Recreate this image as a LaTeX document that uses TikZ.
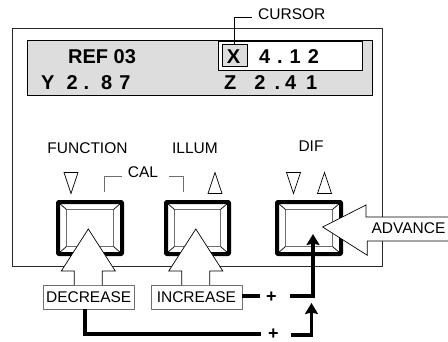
\documentclass[tikz,border=0pt]{standalone}
\usepackage{fontspec}
\setmainfont{Liberation Sans}
\usetikzlibrary{arrows.meta,positioning}
\definecolor{paneledge}{RGB}{40,40,40}
\definecolor{displaygray}{RGB}{221,221,221}
\definecolor{bevelgray}{RGB}{110,110,110}
\tikzset{
 label/.style={font=\fontsize{15.5}{15.5}\selectfont,inner sep=0pt},
 readout/.style={font=\fontsize{20}{20}\selectfont\bfseries,inner sep=0pt},
 plussign/.style={font=\fontsize{18}{18}\selectfont\bfseries,inner sep=0pt},
 keybox/.style={draw=bevelgray,fill=white,line width=.8pt,font=\fontsize{15.5}{15.5}\selectfont,inner sep=0pt,minimum height=24pt},
 hollow/.style={draw=black,fill=white,line width=.7pt,line join=miter},
 feed/.style={line width=3.7pt,line cap=butt,line join=miter},
 feedtip/.style={feed,-{Stealth[length=11pt,width=13pt,inset=1.5pt]}},
 bracket/.style={draw=bevelgray,line width=.9pt},
}
\newcommand{\rg}[1]{\kern#1pt}
\newcommand{\panelkey}[2]{% frame left, frame right
 \draw[line width=1pt,draw=bevelgray] (#1+8.5,209.5) rectangle (#2-8.5,246.5);
 \foreach \xa/\ya/\xb/\yb in {#1+1/203/#1+8.5/209.5,#2-1/203/#2-8.5/209.5,#1+1/253/#1+8.5/246.5,#2-1/253/#2-8.5/246.5}
  {\draw[line width=.7pt] (\xa,\ya)--(\xb,\yb);}
 \draw[line width=4pt,rounded corners=.8pt] (#1,202) rectangle (#2,254);
}
\begin{document}
\begin{tikzpicture}[x=1pt,y=-1pt,>=Stealth,line join=round]
 \useasboundingbox (0,0) rectangle (448,341);
 % panel and display
 \draw[paneledge,line width=.9pt] (12.5,28) rectangle (382.5,266);
 \draw[fill=displaygray,line width=.8pt] (27,40) rectangle (372,95);
 \draw[fill=white,line width=.8pt] (218.5,41) rectangle (362.5,70.5);
 \draw[fill=displaygray,line width=.8pt] (222.5,44) rectangle (247,66.5);
 \node[readout] (ref) at (102,56.5) {REF 03};
 \node[readout] (xname) at (233.5,56.5) {X};
 \node[readout] (xval) at (289,56.5) {4\rg{7}.\rg{7}1\rg{7}2};
 \node[readout,anchor=base west] (yval) at (41,89) {Y\rg{12}2\rg{6}.\rg{12}8\rg{7}7};
 \node[readout,anchor=base west] (zval) at (224,89) {Z\rg{18}2\rg{9}.\rg{5}4\rg{10}1};
 % cursor leader
 \node[label,anchor=west] (cursor) at (258,14) {CURSOR};
 \coordinate (xbox) at (234,44);
 \coordinate (cursorend) at (252,17);
 \draw[line width=.8pt] (xbox) |- (cursorend);
 % key captions
 \node[label] (function) at (87.5,148) {FUNCTION};
 \node[label] (illum) at (195,148) {ILLUM};
 \node[label] (dif) at (311,146) {DIF};
 \node[label] (cal) at (143,172) {CAL};
 \coordinate (calleft) at (104,192);
 \coordinate (calright) at (183,192);
 \coordinate (calleftend) at (122,176);
 \coordinate (calrightend) at (169,176);
 \draw[bracket] (calleft) |- (calleftend);
 \draw[bracket] (calright) |- (calrightend);
 % triangles on the keys
 \foreach \x in {71,293.5}
  {\draw[line width=.7pt,line join=miter] (\x-7,172.5)--(\x+7,172.5)--(\x,193.5)--cycle;}
 \foreach \x in {215,324.5}
  {\draw[line width=.7pt,line join=miter] (\x-7,193.5)--(\x+7,193.5)--(\x,172.5)--cycle;}
 % keys
 \panelkey{58}{122}
 \panelkey{166}{229}
 \panelkey{277}{341}
 % hollow arrows
 \node[keybox,minimum width=91pt] (decrease) at (88.7,297) {DECREASE};
 \node[keybox,minimum width=91pt] (increase) at (196.4,297) {INCREASE};
 \foreach \x in {88.3,195.8}
  {\draw[hollow] (\x-14,285)--(\x-14,271)--(\x-27,271)--(\x,229)--(\x+27,271)--(\x+14,271)--(\x+14,285);}
 \draw[hollow] (449,217)--(366,217)--(366,205)--(322.7,227)--(367.3,255.3)--(367.3,241)--(449,241);
 \node[label] (advance) at (408.5,228.5) {ADVANCE};
 % feeds
 \node[plussign] (plusa) at (271.5,297.5) {+};
 \node[plussign] (plusb) at (273.5,334) {+};
 \coordinate (plusaend) at (260,295.7);
 \coordinate (feedastart) at (290,295.7);
 \coordinate (difkey) at (313,234);
 \coordinate (plusbend) at (261,333.7);
 \coordinate (feedbstart) at (291,335);
 \coordinate (feedbend) at (311.5,303);
 \draw[feed] (increase.east |- plusaend) -- (plusaend);
 \draw[feedtip] (feedastart) -| (difkey);
 \draw[feed] (decrease.south) ++(-4,0) |- (plusbend);
 \draw[feedtip] (feedbstart) -| (feedbend);
\end{tikzpicture}
\end{document}
